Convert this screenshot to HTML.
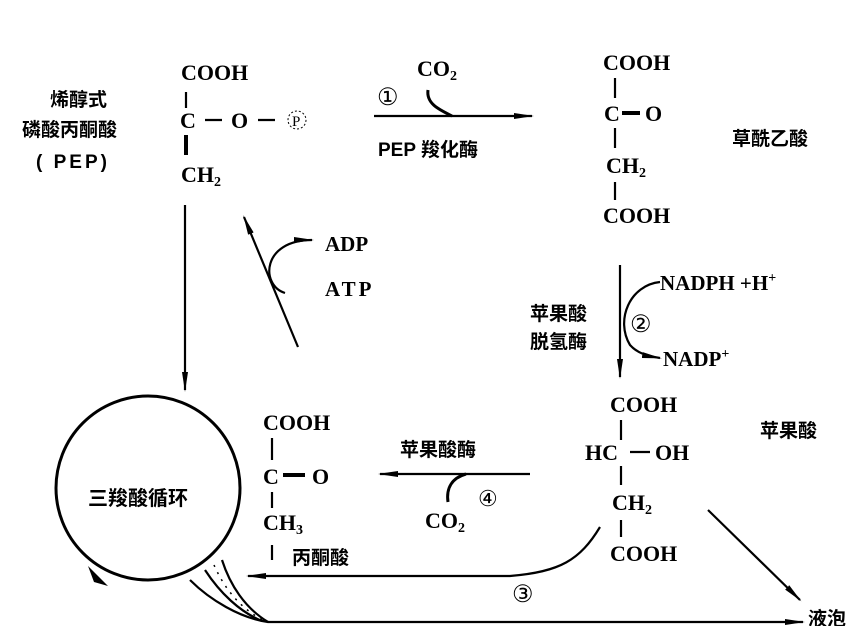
<!DOCTYPE html>
<html><head><meta charset="utf-8"><style>
html,body{margin:0;padding:0;background:#fff;width:865px;height:626px;overflow:hidden}
svg{display:block}
text{fill:#000}
.ch{font-family:"Liberation Serif",serif;font-weight:bold;font-size:22px}
.cj{font-family:"Liberation Sans","Noto Sans CJK SC",sans-serif;font-weight:bold;font-size:19px}
.sub{font-size:14px}
</style></head><body>
<svg width="865" height="626" viewBox="0 0 865 626" xmlns="http://www.w3.org/2000/svg">
<defs>
<marker id="a" viewBox="0 0 20 8" refX="18" refY="4" markerWidth="20" markerHeight="8" markerUnits="userSpaceOnUse" orient="auto"><path d="M0,1 L20,4 L0,7 Z" fill="#000"/></marker>
</defs>
<g stroke="#000" stroke-width="2.2" fill="none">
<line x1="186" y1="92" x2="186" y2="108"/>
<line x1="186" y1="135" x2="186" y2="155" stroke-width="4"/>
<line x1="205" y1="120" x2="222" y2="120"/>
<line x1="258" y1="120" x2="275" y2="120"/>
<line x1="185" y1="205" x2="185" y2="390" marker-end="url(#a)"/>
<line x1="298" y1="347" x2="244" y2="217" marker-end="url(#a)"/>
<path d="M285,293 C260,285 262,240 312,240" marker-end="url(#a)"/>
<line x1="374" y1="116" x2="532" y2="116" marker-end="url(#a)"/>
<path d="M428,90 C426,104 440,110 452,116" stroke-width="3"/>
<line x1="615" y1="78" x2="615" y2="98"/>
<line x1="622" y1="113" x2="640" y2="113" stroke-width="4"/>
<line x1="615" y1="128" x2="615" y2="148"/>
<line x1="615" y1="182" x2="615" y2="200"/>
<line x1="620" y1="265" x2="620" y2="377" marker-end="url(#a)"/>
<path d="M660,282 C630,285 615,320 630,345 C638,354 648,356 660,358" marker-end="url(#a)"/>
<line x1="621" y1="420" x2="621" y2="440"/>
<line x1="630" y1="452" x2="650" y2="452"/>
<line x1="621" y1="466" x2="621" y2="485"/>
<line x1="621" y1="520" x2="621" y2="537"/>
<line x1="708" y1="510" x2="800" y2="600" marker-end="url(#a)"/>
<circle cx="148" cy="488" r="92" stroke-width="3"/>
<line x1="272" y1="438" x2="272" y2="460"/>
<line x1="283" y1="475" x2="305" y2="475" stroke-width="4"/>
<line x1="272" y1="492" x2="272" y2="508"/>
<line x1="272" y1="545" x2="272" y2="560"/>
<line x1="530" y1="474" x2="380" y2="474" marker-end="url(#a)"/>
<path d="M448,502 C446,488 452,478 466,474" stroke-width="3"/>
<path d="M600,527 C580,560 560,572 510,576 L248,576" marker-end="url(#a)"/>
<path d="M190,580 C210,600 240,618 268,622 L803,622" marker-end="url(#a)"/>
<path d="M222,560 C230,585 245,608 268,622"/>
<path d="M205,570 C220,593 240,612 262,621"/>
<path d="M214,565 C225,590 242,610 265,621" stroke-dasharray="2 6" stroke-width="1.5"/>
</g>
<path d="M88,566 L108,586 L94,582 Z" fill="#000"/>
<g class="ch">
<text x="181" y="80">COOH</text>
<text x="180" y="128">C</text>
<text x="231" y="128">O</text>
<text x="292" y="126" style="font-size:15px;font-weight:normal">P</text>
<circle cx="297" cy="120" r="9" fill="none" stroke="#000" stroke-width="1" stroke-dasharray="2 2"/>
<text x="181" y="182">CH<tspan class="sub" dy="4">2</tspan></text>
<text x="417" y="76">CO<tspan class="sub" dy="4">2</tspan></text>
<text x="377" y="105" style="font-size:24px;font-weight:normal">①</text>
<text x="603" y="70">COOH</text>
<text x="604" y="121">C</text>
<text x="645" y="121">O</text>
<text x="606" y="173">CH<tspan class="sub" dy="4">2</tspan></text>
<text x="603" y="223">COOH</text>
<text x="325" y="251" style="font-size:21px">ADP</text>
<text x="325" y="296" style="font-size:21px;letter-spacing:3px">ATP</text>
<text x="660" y="290" style="font-size:21px">NADPH +H<tspan class="sub" dy="-8">+</tspan></text>
<text x="663" y="366" style="font-size:21px">NADP<tspan class="sub" dy="-8">+</tspan></text>
<text x="630" y="332" style="font-size:24px;font-weight:normal">②</text>
<text x="610" y="412">COOH</text>
<text x="585" y="460">HC</text>
<text x="655" y="460">OH</text>
<text x="612" y="510">CH<tspan class="sub" dy="4">2</tspan></text>
<text x="610" y="561">COOH</text>
<text x="263" y="430">COOH</text>
<text x="263" y="484">C</text>
<text x="312" y="484">O</text>
<text x="263" y="530">CH<tspan class="sub" dy="4">3</tspan></text>
<text x="425" y="528">CO<tspan class="sub" dy="4">2</tspan></text>
<text x="478" y="506" style="font-size:22px;font-weight:normal">④</text>
<text x="512" y="602" style="font-size:24px;font-weight:normal">③</text>
</g>
<g class="cj">
<text x="50" y="106">烯醇式</text>
<text x="22" y="136">磷酸丙酮酸</text>
<text x="36" y="168" style="font-family:'Liberation Sans',sans-serif;letter-spacing:3px">( PEP)</text>
<text x="378" y="156">PEP 羧化酶</text>
<text x="732" y="145">草酰乙酸</text>
<text x="530" y="320">苹果酸</text>
<text x="530" y="348">脱氢酶</text>
<text x="760" y="437">苹果酸</text>
<text x="400" y="456">苹果酸酶</text>
<text x="88" y="505" style="font-size:20px">三羧酸循环</text>
<text x="292" y="564">丙酮酸</text>
<text x="808" y="625">液泡</text>
</g>
</svg>
</body></html>
